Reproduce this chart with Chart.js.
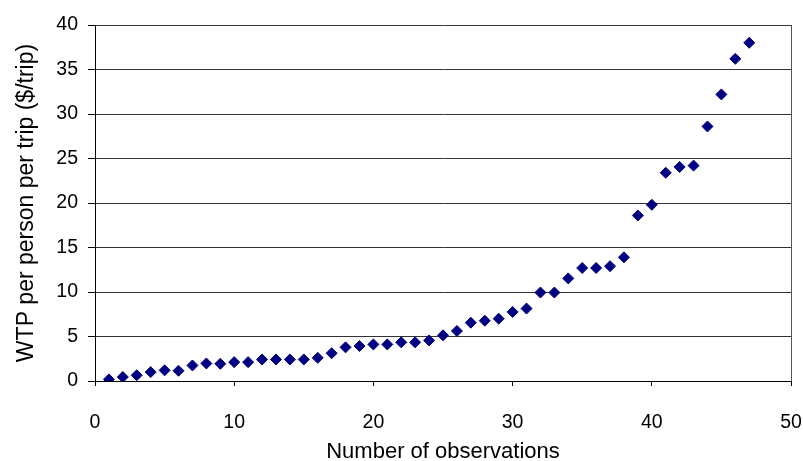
<!DOCTYPE html>
<html>
<head>
<meta charset="utf-8">
<script src="https://cdn.jsdelivr.net/npm/chart.js@4/dist/chart.umd.min.js"></script>
<style>
  html, body { margin: 0; padding: 0; background: #fff; }
  #wrap { width: 803px; height: 461px; }
</style>
</head>
<body>
<div id="wrap"><canvas id="chart"></canvas></div>
<script>
const observations = [
  1, 2, 3, 4, 5, 6, 7, 8, 9, 10,
  11, 12, 13, 14, 15, 16, 17, 18, 19, 20,
  21, 22, 23, 24, 25, 26, 27, 28, 29, 30,
  31, 32, 33, 34, 35, 36, 37, 38, 39, 40,
  41, 42, 43, 44, 45, 46, 47
];
const wtp = [
  0.18, 0.45, 0.65, 1.0, 1.2, 1.15, 1.75, 1.97, 1.93, 2.12,
  2.12, 2.42, 2.42, 2.42, 2.42, 2.6, 3.12, 3.78, 3.93, 4.11,
  4.11, 4.34, 4.34, 4.56, 5.13, 5.62, 6.55, 6.78, 7.0, 7.76,
  8.14, 9.94, 9.94, 11.53, 12.7, 12.7, 12.9, 13.9, 18.6, 19.8,
  23.4, 24.05, 24.2, 28.6, 32.2, 36.2, 38.0
];
const xTicks = [0, 10, 20, 30, 40, 50];
const yTicks = [0, 5, 10, 15, 20, 25, 30, 35, 40];

const font = "'Liberation Sans', Arial, sans-serif";
const points = observations.map((x, i) => ({ x: x, y: wtp[i] }));

new Chart(document.getElementById("chart"), {
  type: "scatter",
  data: {
    datasets: [
      {
        data: points,
        pointStyle: "rectRot",
        pointRadius: 5.5,
        pointBorderWidth: 1,
        backgroundColor: "#000080",
        borderColor: "#000080",
      },
    ],
  },
  options: {
    responsive: true,
    maintainAspectRatio: false,
    animation: false,
    layout: { padding: { top: 25, right: 0, bottom: 0, left: 0 } },
    plugins: {
      legend: { display: false },
      tooltip: { enabled: false },
    },
    scales: {
      x: {
        type: "linear",
        min: xTicks[0],
        max: xTicks[xTicks.length - 1],
        afterBuildTicks: (scale) => {
          scale.ticks = xTicks.map((v) => ({ value: v }));
        },
        afterFit: (scale) => {
          scale.height = 80;
          scale.paddingRight = 12;
        },
        ticks: {
          color: "#000",
          padding: 25,
          maxRotation: 0,
          font: { family: font, size: 19.5 },
        },
        grid: {
          // only the right frame edge at x = 50
          color: (ctx) => (ctx.tick && ctx.tick.value === 50 ? "#555" : "rgba(0,0,0,0)"),
          tickColor: "#000",
          tickLength: 5,
        },
        border: { color: "#000", width: 1 },
        title: {
          display: true,
          text: "Number of observations",
          color: "#000",
          font: { family: font, size: 22, lineHeight: 1.0 },
          padding: { top: 0, bottom: -2 },
        },
      },
      y: {
        type: "linear",
        min: yTicks[0],
        max: yTicks[yTicks.length - 1],
        afterBuildTicks: (scale) => {
          scale.ticks = yTicks.map((v) => ({ value: v }));
        },
        afterFit: (scale) => {
          scale.width = 95;
        },
        ticks: {
          color: "#000",
          padding: 10,
          font: { family: font, size: 19.5 },
        },
        grid: {
          color: "#333",
          tickColor: "#000",
          tickLength: 7,
        },
        border: { color: "#000", width: 1 },
        title: {
          display: true,
          text: "WTP per person per trip ($/trip)",
          color: "#000",
          font: { family: font, size: 23, lineHeight: 1.0 },
          padding: { top: 15, bottom: 0 },
        },
      },
    },
  },
});
</script>
</body>
</html>
